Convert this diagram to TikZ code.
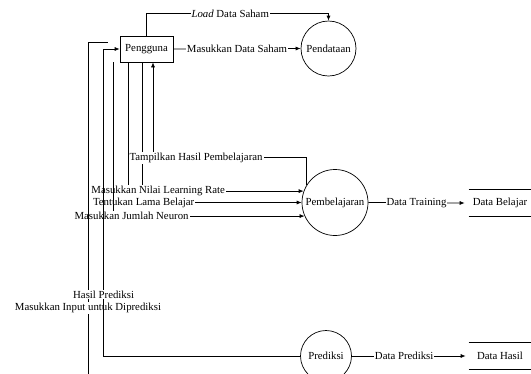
\documentclass[tikz,border=0pt]{standalone}
\usepackage{fontspec}
\setmainfont{Liberation Serif}
\usetikzlibrary{arrows.meta}

\begin{document}
\begin{tikzpicture}[x = 1pt, y = -1pt, line width = 0.7pt,
  every node/.style = {font = \fontsize{10.8}{12}\selectfont, inner sep = 1pt},
  fleche/.style = {-{Latex[length = 5pt, width = 4pt]}},
  etiq/.style = {fill = white},
  entite/.style = {draw, minimum width = 53pt, minimum height = 26pt},
  processus/.style = {draw, circle, inner sep = 0pt},
  stock/.style = {minimum width = 62pt, minimum height = 26pt}]
  \useasboundingbox (0,0) rectangle (531,373);

  % dessiner l'entité et les processus
  \node[entite] (peng) at (146.5,49) {Pengguna};
  \node[processus, minimum size = 55pt] (pend) at (328.5,48.5) {Pendataan};
  \node[processus, minimum size = 66pt] (pemb) at (335,202.5) {Pembelajaran};
  \node[processus, minimum size = 51pt] (pred) at (326,356) {Prediksi};

  % dessiner les stocks de données
  \node[stock] (dbel) at (500,203) {Data Belajar};
  \node[stock] (dhas) at (500,356) {Data Hasil};
  \foreach \s in {dbel, dhas}
    \draw (\s.north west) -- (\s.north east) (\s.south west) -- (\s.south east);

  % flux vers Pendataan
  \draw[fleche] (peng.north) -- ++(0,-22) -| node[etiq, pos = 0.23]{\textit{Load} Data Saham} (pend.north);
  \draw[fleche] (peng.east) -- node[etiq]{Masukkan Data Saham} (pend.west);

  % flux entre Pengguna et Pembelajaran
  \draw[fleche] ([xshift = -18.5pt]peng.south) |- node[etiq, pos = 0.545]{Tentukan Lama Belajar} (pemb.west);
  \draw[fleche] ([xshift = -4.5pt]peng.south) |- node[etiq, pos = 0.55]{Masukkan Nilai Learning Rate} (pemb.160);
  \draw[fleche] (pemb.148) -- ++(0,-27) -| node[etiq, pos = 0.36]{Tampilkan Hasil Pembelajaran} ([xshift = 6.5pt]peng.south);
  \draw[fleche] ([xshift = -6pt]peng.south west) |- node[etiq, pos = 0.547]{Masukkan Jumlah Neuron} (pemb.204);

  % flux entre Pengguna et Prediksi
  \coordinate (bas) at (88,380);
  \draw ([xshift = -12pt, yshift = 7pt]peng.west) -| node[etiq, pos = 0.893]{Masukkan Input untuk Diprediksi} (bas);
  \draw[fleche] (pred.west) -| node[etiq, pos = 0.6]{Hasil Prediksi} ([xshift = -16pt]peng.west) -- (peng.west);

  % flux vers les stocks
  \draw[fleche] (pemb.east) -- node[etiq]{Data Training} ([xshift = -4pt]dbel.west);
  \draw[fleche] (pred.east) -- node[etiq, pos = 0.46]{Data Prediksi} ([xshift = -3pt]dhas.west);
\end{tikzpicture}
\end{document}
